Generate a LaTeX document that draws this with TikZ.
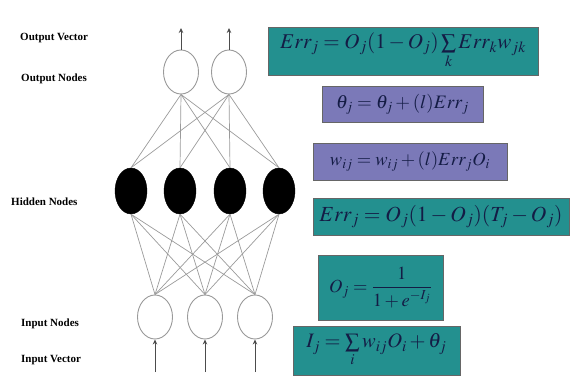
\documentclass[tikz,border=0pt]{standalone}
\usepackage{mathptmx}
\usepackage{fontspec}
\setmainfont{Liberation Serif}
\usetikzlibrary{arrows.meta,shapes.geometric}
\definecolor{tealbox}{HTML}{23908F}
\definecolor{purplebox}{HTML}{7B79B8}
\definecolor{formula}{HTML}{141C45}
\definecolor{linegray}{HTML}{9A9A9A}
\tikzset{
  lbl/.style={font=\fontsize{11}{12}\selectfont\bfseries, anchor=west, inner sep=0pt},
  opennode/.style={ellipse, draw=linegray, line width=0.9pt, fill=white, minimum width=35pt, minimum height=44pt, inner sep=0pt},
  hidnode/.style={ellipse, draw=black, fill=black, minimum width=32pt, minimum height=46pt, inner sep=0pt},
  conn/.style={draw=linegray, line width=0.7pt},
  vec/.style={draw=black!70, line width=0.8pt, -{Stealth[length=5pt,width=4.5pt]}},
  fbox/.style={rectangle, draw=black!60, line width=0.6pt, text=formula, inner sep=0pt},
  tealf/.style={fbox, fill=tealbox},
  purpf/.style={fbox, fill=purplebox},
}
\begin{document}
\begin{tikzpicture}[x=1pt,y=-1pt]
\useasboundingbox (0,0) rectangle (573,377);
% labels
\node[lbl] (lov) at (20,38) {Output Vector};
\node[lbl] (lon) at (21,79) {Output Nodes};
\node[lbl] (lhn) at (11,202) {Hidden Nodes};
\node[lbl] (lin) at (21,324) {Input Nodes};
\node[lbl] (liv) at (21,360) {Input Vector};
% nodes
\node[opennode] (o1) at (181,72) {};
\node[opennode] (o2) at (229,72) {};
\node[hidnode] (h1) at (131,191) {};
\node[hidnode] (h2) at (180,191) {};
\node[hidnode] (h3) at (230,191) {};
\node[hidnode] (h4) at (279,191) {};
\node[opennode] (i1) at (155,317) {};
\node[opennode] (i2) at (205,317) {};
\node[opennode] (i3) at (255,317) {};
% connections
\foreach \o in {o1,o2}{
  \foreach \h in {h1,h2,h3,h4}{
    \draw[conn] (\o.south) -- (\h.north);
  }
}
\foreach \h in {h1,h2,h3,h4}{
  \foreach \i in {i1,i2,i3}{
    \draw[conn] (\h.south) -- (\i.north);
  }
}
% vectors
\coordinate (ov1) at (181,28);
\coordinate (ov2) at (229,28);
\coordinate (iv1) at (155,372);
\coordinate (iv2) at (205,372);
\coordinate (iv3) at (255,372);
\draw[vec] (o1.north) -- (ov1);
\draw[vec] (o2.north) -- (ov2);
\draw[vec] (iv1) -- (i1.south);
\draw[vec] (iv2) -- (i2.south);
\draw[vec] (iv3) -- (i3.south);
% formula boxes
\node[tealf, minimum width=270pt, minimum height=48pt, font=\fontsize{21}{21}\selectfont] (b1) at (403,51)
  {$Err_j = O_j(1-O_j)\sum\limits_k Err_k w_{jk}$};
\node[purpf, minimum width=161pt, minimum height=36pt, font=\fontsize{19}{19}\selectfont] (b2) at (402.5,104)
  {$\theta_j = \theta_j + (l)Err_j$};
\node[purpf, minimum width=194pt, minimum height=37pt, font=\fontsize{18.5}{18.5}\selectfont] (b3) at (410,161.5)
  {$w_{ij} = w_{ij} + (l)Err_j O_i$};
\node[tealf, minimum width=256pt, minimum height=37pt, font=\fontsize{21.5}{21.5}\selectfont] (b4) at (441,216.5)
  {$Err_j = O_j(1-O_j)(T_j - O_j)$};
\node[tealf, minimum width=125pt, minimum height=65pt, font=\fontsize{18.5}{18.5}\selectfont] (b5) at (380.5,287.5)
  {$O_j = \displaystyle\frac{1}{1+e^{-I_j}}$};
\node[tealf, minimum width=167pt, minimum height=49pt, font=\fontsize{20.5}{20.5}\selectfont] (b6) at (376.5,350.5)
  {$I_j = \sum\limits_i w_{ij} O_i + \theta_j$};
\end{tikzpicture}
\end{document}
